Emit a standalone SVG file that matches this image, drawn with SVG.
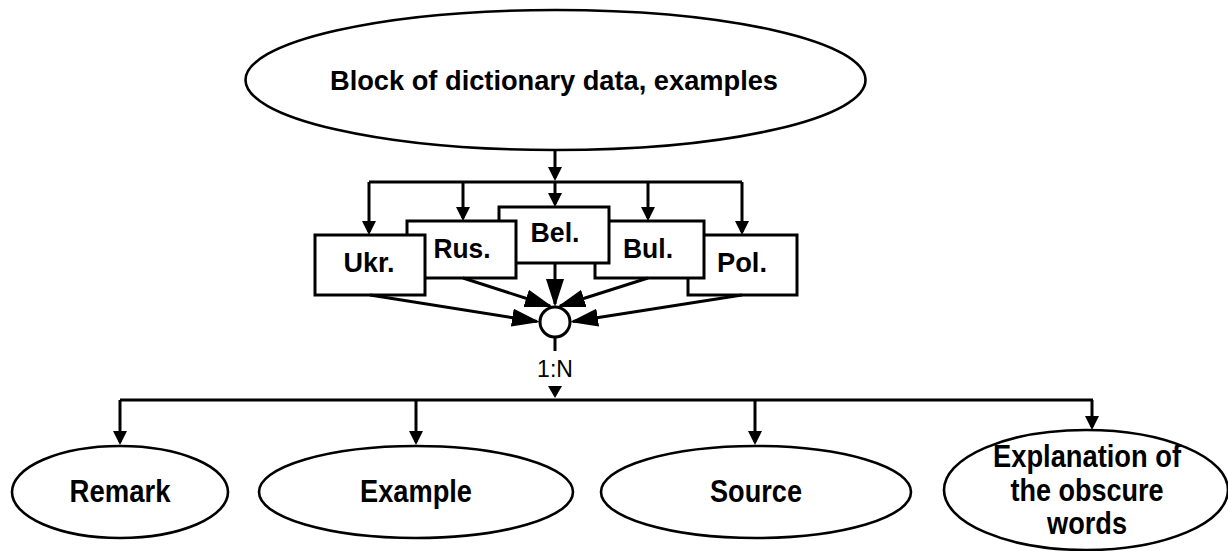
<svg xmlns="http://www.w3.org/2000/svg" width="1228" height="551" viewBox="0 0 1228 551">
<style>
.bg{fill:#fff}
.shape{fill:#fff;stroke:#000;stroke-width:3}
.ell{fill:#fff;stroke:#000;stroke-width:2.6}
.lbl{font-family:"Liberation Sans",Arial,sans-serif;font-weight:bold;font-size:28px;fill:#000;text-anchor:middle}
.lbl2{font-family:"Liberation Sans",Arial,sans-serif;font-weight:bold;font-size:31px;fill:#000;text-anchor:middle}
.card{font-family:"Liberation Sans",Arial,sans-serif;font-size:23px;fill:#000;text-anchor:middle}
.ln{fill:none;stroke:#000;stroke-width:3}
.sa{marker-end:url(#small)}
.la{marker-end:url(#large)}
</style>
<defs>
<marker id="small" markerUnits="userSpaceOnUse" markerWidth="14" markerHeight="14" refX="11" refY="7" orient="auto">
<path d="M0,0 L14,7 L0,14 Z" fill="#000"/>
</marker>
<marker id="large" markerUnits="userSpaceOnUse" markerWidth="28" markerHeight="18" refX="25" refY="9" orient="auto">
<path d="M0,0 L28,9 L0,18 Z" fill="#000"/>
</marker>
</defs>
<rect class="bg" x="0" y="0" width="1228" height="551"/>

<g id="connectors">
<line class="ln sa" x1="555" y1="150" x2="555" y2="178"/>
<polyline class="ln" points="369,182 742,182"/>
<line class="ln sa" x1="369" y1="182" x2="369" y2="232"/>
<line class="ln sa" x1="463" y1="182" x2="463" y2="218"/>
<line class="ln sa" x1="555" y1="182" x2="555" y2="204"/>
<line class="ln sa" x1="648" y1="182" x2="648" y2="218"/>
<line class="ln sa" x1="742" y1="182" x2="742" y2="232"/>
</g>

<g id="node-pol"><rect class="shape" x="688" y="235" width="109" height="60"/><text class="lbl" x="742" y="272" textLength="50" lengthAdjust="spacingAndGlyphs">Pol.</text></g>
<g id="node-bul"><rect class="shape" x="595" y="221" width="109" height="57"/><text class="lbl" x="648" y="258" textLength="50" lengthAdjust="spacingAndGlyphs">Bul.</text></g>
<g id="node-bel"><rect class="shape" x="499" y="207" width="110" height="56"/><text class="lbl" x="555" y="242" textLength="49" lengthAdjust="spacingAndGlyphs">Bel.</text></g>
<g id="node-rus"><rect class="shape" x="407" y="221" width="109" height="57"/><text class="lbl" x="462" y="258" textLength="57" lengthAdjust="spacingAndGlyphs">Rus.</text></g>
<g id="node-ukr"><rect class="shape" x="315" y="235" width="110" height="60"/><text class="lbl" x="369" y="272" textLength="51" lengthAdjust="spacingAndGlyphs">Ukr.</text></g>

<g id="connectors-merge">
<line class="ln la" x1="370" y1="295" x2="537" y2="321.5"/>
<line class="ln la" x1="463" y1="278" x2="550" y2="306"/>
<line class="ln la" x1="555" y1="263" x2="555" y2="304"/>
<line class="ln la" x1="648" y1="278" x2="560" y2="306"/>
<line class="ln la" x1="742" y1="295" x2="573" y2="321.5"/>
<line class="ln" x1="555" y1="337" x2="555" y2="351"/>
<path d="M548,386 L562,386 L555,398 Z" fill="#000"/>
<polyline class="ln" points="120,400 1093,400"/>
<line class="ln sa" x1="120" y1="400" x2="120" y2="442"/>
<line class="ln sa" x1="416" y1="400" x2="416" y2="442"/>
<line class="ln sa" x1="755" y1="400" x2="755" y2="442"/>
<line class="ln sa" x1="1092" y1="400" x2="1092" y2="427"/>
</g>

<g id="node-join"><circle class="shape" cx="555" cy="322" r="15"/><text class="card" x="555" y="377">1:N</text></g>

<g id="node-block"><ellipse class="ell" cx="555.5" cy="80" rx="310" ry="70"/><text class="lbl" x="554" y="90" textLength="448" lengthAdjust="spacingAndGlyphs">Block of dictionary data, examples</text></g>

<g id="node-remark"><ellipse class="ell" cx="120" cy="492" rx="108" ry="46"/><text class="lbl2" x="120" y="502" textLength="101" lengthAdjust="spacingAndGlyphs">Remark</text></g>
<g id="node-example"><ellipse class="ell" cx="416" cy="492" rx="157" ry="46"/><text class="lbl2" x="416" y="502" textLength="112" lengthAdjust="spacingAndGlyphs">Example</text></g>
<g id="node-source"><ellipse class="ell" cx="756" cy="492" rx="155" ry="46"/><text class="lbl2" x="756" y="502" textLength="92" lengthAdjust="spacingAndGlyphs">Source</text></g>
<g id="node-explanation"><ellipse class="ell" cx="1086" cy="490" rx="142" ry="60"/><text class="lbl2" x="1087" y="467" textLength="188" lengthAdjust="spacingAndGlyphs">Explanation of</text><text class="lbl2" x="1087" y="501" textLength="153" lengthAdjust="spacingAndGlyphs">the obscure</text><text class="lbl2" x="1087" y="534" textLength="80" lengthAdjust="spacingAndGlyphs">words</text></g>
</svg>
